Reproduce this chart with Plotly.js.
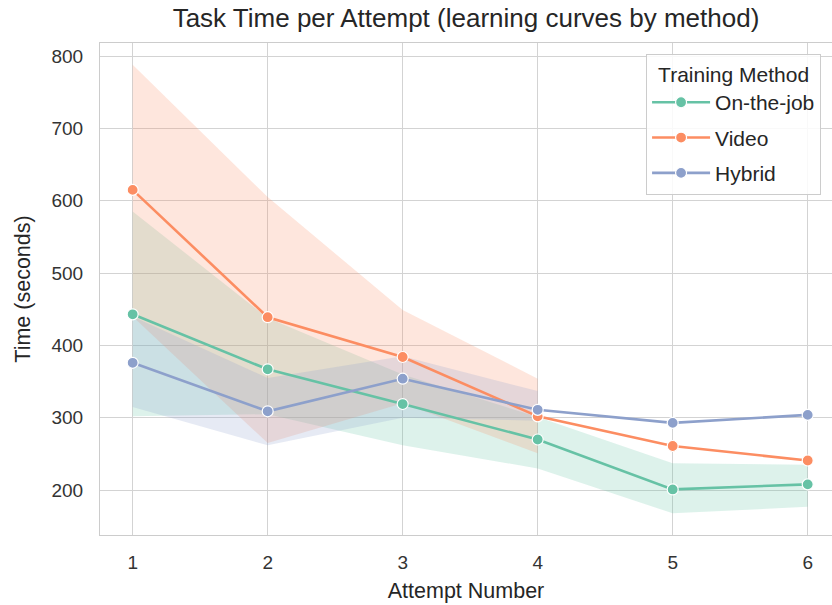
<!DOCTYPE html>
<html>
<head>
<meta charset="utf-8">
<script src="https://cdn.plot.ly/plotly-3.0.1.min.js"></script>
<style>html,body{margin:0;padding:0;background:#fff;}#chart{width:832px;height:605px;}</style>
</head>
<body>
<div id="chart"></div>
<script>
// Data
const attempts = [1, 2, 3, 4, 5, 6];
const methods = ["On-the-job", "Video", "Hybrid"];

const onJobMean  = [443, 367, 319, 270, 201, 208];
const onJobLow   = [302, 305, 262, 230, 168, 177];
const onJobHigh  = [585, 438, 360, 301, 237, 235];

// bands for Video and Hybrid end at attempt 4 (no interval afterwards)
const videoMean  = [615, 439, 384, 302, 261, 241];
const videoLow   = [440, 265, 320, 251, null, null];
const videoHigh  = [788, 605, 449, 354, null, null];

const hybridMean = [376, 309, 354, 311, 293, 304];
const hybridLow  = [315, 262, 300, 296, null, null];
const hybridHigh = [440, 355, 385, 337, null, null];

const colors = ["#66c2a5", "#fc8d62", "#8da0cb"];
const fills  = ["rgba(102,194,165,0.22)", "rgba(252,141,98,0.22)", "rgba(141,160,203,0.22)"];

const means = [onJobMean, videoMean, hybridMean];
const lows  = [onJobLow, videoLow, hybridLow];
const highs = [onJobHigh, videoHigh, hybridHigh];

const traces = [];
methods.forEach((m, i) => {
  const idx = attempts.map((_, k) => k).filter(k => lows[i][k] !== null && highs[i][k] !== null);
  const xs = idx.map(k => attempts[k]);
  const up = idx.map(k => highs[i][k]);
  const lo = idx.map(k => lows[i][k]);
  traces.push({
    x: xs.concat(xs.slice().reverse()),
    y: up.concat(lo.slice().reverse()),
    type: "scatter", mode: "lines", fill: "toself",
    fillcolor: fills[i], line: {width: 0, color: "rgba(0,0,0,0)"},
    showlegend: false, hoverinfo: "skip"
  });
});
methods.forEach((m, i) => {
  traces.push({
    x: attempts, y: means[i], name: m, legendgroup: "g" + i,
    type: "scatter", mode: "lines+markers",
    line: {color: colors[i], width: 2.6},
    marker: {color: colors[i], size: 11, line: {color: "#ffffff", width: 1.2}}
  });
});

const font = "'Liberation Sans', Arial, sans-serif";
const layout = {
  width: 832, height: 605,
  paper_bgcolor: "#ffffff", plot_bgcolor: "#ffffff",
  margin: {l: 100, r: 0, t: 43, b: 70},
  font: {family: font, color: "#262626"},
  title: {text: "Task Time per Attempt (learning curves by method)",
          font: {size: 26, color: "#262626", family: font},
          x: 0.5, xref: "paper", xanchor: "center", y: 0.985, yref: "container", yanchor: "top"},
  xaxis: {
    range: [0.758, 6.18], tickvals: attempts, ticktext: attempts.map(String),
    showgrid: true, gridcolor: "#d3d3d3", gridwidth: 1, zeroline: false,
    showline: true, mirror: true, linecolor: "#cccccc", linewidth: 1,
    ticks: "", ticklabelstandoff: 10,
    tickfont: {size: 19, color: "#333333"},
    title: {text: "Attempt Number", font: {size: 21.5, color: "#262626"}, standoff: 11}
  },
  yaxis: {
    range: [138, 818], tickvals: [200, 300, 400, 500, 600, 700, 800],
    showgrid: true, gridcolor: "#d3d3d3", gridwidth: 1, zeroline: false,
    showline: true, linecolor: "#cccccc", linewidth: 1,
    ticks: "", ticklabelstandoff: 12,
    tickfont: {size: 19, color: "#333333"},
    title: {text: "Time (seconds)", font: {size: 21.5, color: "#262626"}, standoff: 14}
  },
  legend: {
    x: 0.746, y: 0.978, xanchor: "left", yanchor: "top",
    bgcolor: "rgba(255,255,255,0.85)", bordercolor: "#cccccc", borderwidth: 1,
    font: {size: 21, color: "#262626"},
    traceorder: "grouped", tracegroupgap: 5, itemwidth: 58,
    title: {text: "Training Method", side: "top center", font: {size: 21, color: "#262626"}}
  },
  showlegend: true
};

Plotly.newPlot("chart", traces, layout, {displayModeBar: false, staticPlot: true});
</script>
</body>
</html>
